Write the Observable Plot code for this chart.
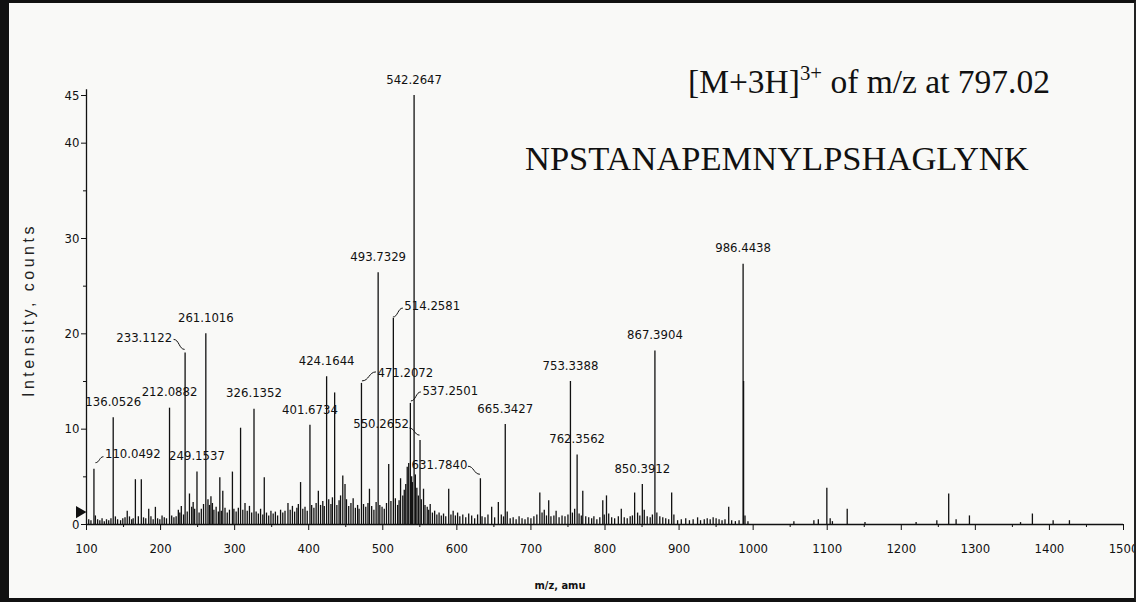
<!DOCTYPE html>
<html>
<head>
<meta charset="utf-8">
<script src="https://cdn.jsdelivr.net/npm/d3@7"></script>
<script src="https://cdn.jsdelivr.net/npm/@observablehq/plot@0.6"></script>
<style>
  html, body { margin: 0; padding: 0; background: #f9f9f7; }
  #wrap { position: relative; width: 1136px; height: 602px; overflow: hidden; background: #f9f9f7; }
  #frame { position: absolute; left: 0; top: 0; width: 1136px; height: 602px; box-sizing: border-box;
           border-top: 3px solid #111; border-left: 9px solid #111; border-right: 2px solid #222; border-bottom: 4px solid #111; pointer-events: none; }
  .note { position: absolute; font-family: "Liberation Serif", "Times New Roman", serif; color: #111; white-space: nowrap; line-height: 1; }
  .note sup { font-size: 62%; vertical-align: 0; position: relative; top: -0.62em; }
</style>
</head>
<body>
<div id="wrap">
  <div id="chart"></div>
  <div class="note" id="precursor" style="left:688px; top:65px; font-size:33.5px;">[M+3H]<sup>3+</sup> of m/z at 797.02</div>
  <div class="note" id="sequence" style="left:525px; top:141px; font-size:34.5px;">NPSTANAPEMNYLPSHAGLYNK</div>
  <div id="frame"></div>
</div>
<script>
// ---- data ----
const labeledMz = [110.0492, 136.0526, 212.0882, 233.1122, 249.1537, 261.1016, 326.1352, 401.6734, 424.1644,
  471.2072, 493.7329, 514.2581, 537.2501, 542.2647, 550.2652, 631.7840, 665.3427, 753.3388, 762.3562,
  850.3912, 867.3904, 986.4438];
const labeledIntensity = [5.8, 11.2, 12.2, 18.0, 5.5, 20.0, 12.1, 10.4, 15.5,
  14.8, 26.4, 21.6, 12.7, 45.0, 8.8, 4.8, 10.5, 15.0, 7.3,
  4.2, 18.2, 27.3];

const minorMz = [
  103,106,112,115,118,121,124,127,130,133,139,142,146,149,152,155,158,161,163,166,170,174,177,180,184,187,190,193,196,199,
  202,205,208,215,218,221,224,226,228,231,236,239,242,244,246,252,255,258,264,266,268,270,272,275,278,280,282,284,287,290,293,297,299,
  302,305,308,311,314,317,320,323,329,332,335,338,340,343,346,349,352,355,358,362,365,368,372,375,378,381,384,386,389,392,395,398,
  404,407,410,413,416,419,421,427,430,432,435,438,441,443,446,449,451,454,457,460,463,466,468,474,477,480,482,485,488,491,496,499,
  502,505,508,511,517,520,522,524,527,529,531,533,535,539,540,544,546,548,552,555,557,560,562,564,567,570,573,576,579,582,585,589,592,595,598,
  601,604,608,612,616,620,624,628,634,638,642,647,651,656,660,663,668,672,676,680,684,688,692,696,
  700,704,708,712,715,718,721,724,727,731,734,738,742,746,750,756,759,765,768,770,774,778,782,785,789,793,797,799,
  802,805,809,813,818,822,826,830,834,837,840,844,847,853,857,861,864,870,874,878,882,886,890,893,898,
  903,909,914,919,925,929,934,938,942,946,950,954,958,962,967,971,976,981,987.1,989,993,
  1055,1082,1088,1099.5,1104,1107,1127,1151,1220,1248,1264,1274,1292,1361,1377,1405,1427];
const minorIntensity = [
  0.5,0.4,0.9,0.5,0.4,0.6,0.3,0.5,0.4,0.6,0.8,0.5,0.4,0.6,0.7,1.4,0.8,0.5,0.6,4.7,0.8,4.7,0.7,0.6,1.6,0.8,0.5,1.8,0.6,0.5,
  0.9,0.7,0.6,0.9,0.7,0.8,1.5,1.2,1.9,1.0,1.3,3.2,1.8,2.3,1.6,1.2,1.6,2.1,2.6,2.0,2.9,2.2,1.5,1.8,1.3,4.9,1.4,3.5,1.7,1.2,1.5,5.5,1.6,
  1.3,1.7,10.1,1.5,2.2,1.4,1.9,1.2,1.3,1.1,1.6,1.0,4.9,1.2,0.9,1.4,1.1,1.3,0.9,1.5,1.2,1.4,2.2,1.5,1.9,1.3,1.7,2.1,4.4,1.6,1.8,1.4,
  2.0,1.7,2.2,3.5,2.0,2.4,1.9,2.6,2.1,2.8,13.8,2.0,2.5,3.0,5.1,4.2,2.6,1.9,2.2,2.7,1.7,2.0,1.6,2.1,1.8,2.2,3.7,1.9,1.5,2.3,2.0,1.8,
  1.6,2.2,6.3,2.4,2.7,2.0,2.5,4.8,3.0,3.6,4.2,6.0,6.4,5.0,4.4,5.2,3.8,3.0,2.6,3.7,2.0,1.8,1.5,2.1,1.2,1.4,1.0,1.2,0.9,1.1,0.8,3.7,1.0,1.4,0.9,
  1.2,0.8,1.0,0.7,1.1,0.9,0.6,1.0,0.8,0.7,1.0,1.8,0.7,2.3,1.0,0.8,1.3,0.6,0.7,0.5,0.8,0.6,0.5,0.7,
  0.6,0.8,1.0,3.3,1.2,1.5,0.9,2.5,0.8,0.9,1.4,0.7,0.9,0.8,1.0,1.2,1.6,1.1,0.9,3.5,0.8,0.7,0.6,0.8,0.5,0.7,2.5,1.0,
  3.0,1.1,0.7,0.6,0.8,1.6,0.7,0.6,0.8,0.9,3.3,1.2,0.9,1.5,0.8,0.7,1.0,1.2,0.8,0.7,0.6,0.5,3.3,1.0,0.4,
  0.5,0.6,0.4,0.5,0.7,0.4,0.5,0.6,0.5,0.7,0.6,0.5,0.4,0.5,1.8,0.4,0.3,0.4,15.0,0.9,0.3,
  0.3,0.4,0.5,3.8,0.6,0.3,1.6,0.2,0.2,0.4,3.2,0.5,0.9,0.2,1.1,0.4,0.4];

const xTicks = [100,200,300,400,500,600,700,800,900,1000,1100,1200,1300,1400,1500];
const yTicks = [0,10,20,30,40,45];
const threshold = [1.3];

// ---- build tables ----
const labeled = labeledMz.map((mz, k) => ({mz, i: labeledIntensity[k], label: mz.toFixed(4)}));
const minor = minorMz.map((mz, k) => ({mz, i: minorIntensity[k]}));
const peaks = minor.concat(labeled);

// label placement (pixel offsets from the peak top) for labels with a leader
const leaderStyle = {
  "110.0492": {anchor: "start", dx: 11, dy: -15, leader: [2, -6, 10, -12]},
  "233.1122": {anchor: "end", dx: -13, dy: -15, leader: [-11, -13, 0, -3]},
  "471.2072": {anchor: "start", dx: 16, dy: -11, leader: [1, -2, 15, -11]},
  "514.2581": {anchor: "start", dx: 11, dy: -13, leader: [0, -1, 10, -10]},
  "537.2501": {anchor: "start", dx: 12, dy: -13, leader: [1, -2, 11, -11]},
  "550.2652": {anchor: "end", dx: -11, dy: -17, leader: [-10, -12, 0, -5]},
  "631.7840": {anchor: "end", dx: -13, dy: -14, leader: [-12, -12, 0, -4]}
};

const plainLabels = labeled.filter(d => !leaderStyle[d.label]);
const leaderLabels = labeled.filter(d => leaderStyle[d.label]);

const narrow = "'Liberation Sans Narrow', 'Arial Narrow', 'DejaVu Sans Condensed', sans-serif";

const leaderMark = (index, scales) => {
  const g = d3.create("svg:g").attr("fill", "none").attr("stroke", "#111").attr("stroke-width", 1);
  for (const d of leaderLabels) {
    const [ax, ay, bx, by] = leaderStyle[d.label].leader;
    const x0 = scales.x(d.mz), y0 = scales.y(d.i);
    const x1 = x0 + ax, y1 = y0 + ay, x2 = x0 + bx, y2 = y0 + by;
    const mx = (x1 + x2) / 2;
    g.append("path").attr("d", `M${x1},${y1}C${mx},${y1} ${mx},${y2} ${x2},${y2}`);
  }
  return g.node();
};

const marks = [
  Plot.ruleX(peaks, {x: "mz", y1: () => 0, y2: "i", stroke: "#111", strokeWidth: 1.3}),
  Plot.ruleY([0], {stroke: "#111", strokeWidth: 1.6}),
  Plot.ruleX([100], {y1: () => 0, y2: () => 45.6, stroke: "#111", strokeWidth: 1.3}),
  Plot.axisX({ticks: xTicks, tickSize: 6, tickPadding: 13, tickFormat: d => String(d), label: null, fontSize: 13}),
  Plot.axisX({ticks: d3.range(150, 1500, 100), tickSize: 3, tickFormat: () => "", label: null}),
  Plot.axisY({ticks: yTicks, tickSize: 5, tickPadding: 2, tickFormat: d => String(d), fontSize: 13,
    label: "Intensity, counts", labelAnchor: "center", labelOffset: 64, labelArrow: "none"}),
  Plot.axisY({ticks: [5, 15, 25, 35], tickSize: 3, tickFormat: () => "", label: null}),
  Plot.dot(threshold, {x: () => 100, y: d => d, symbol: "triangle", rotate: 90, r: 4.5, fill: "#111", stroke: "none", dx: -7}),
  Plot.text(plainLabels, {x: "mz", y: "i", text: "label", dy: -16, fontSize: 13, fill: "#111"}),
  leaderMark,
  Plot.text(["m/z, amu"], {frameAnchor: "bottom", dx: -45, dy: 64, fontSize: 11, fontWeight: "bold", fill: "#111"})
];
for (const d of leaderLabels) {
  const s = leaderStyle[d.label];
  marks.push(Plot.text([d], {x: "mz", y: "i", text: "label", textAnchor: s.anchor, dx: s.dx, dy: s.dy, fontSize: 13, fill: "#111"}));
}

const chart = Plot.plot({
  width: 1136,
  height: 602,
  marginLeft: 86,
  marginRight: 13,
  marginTop: 95,
  marginBottom: 78,
  x: {domain: [100, 1500]},
  y: {domain: [0, 45]},
  style: {background: "transparent", fontFamily: narrow, fontSize: "13px", color: "#111", overflow: "visible"},
  marks
});
document.getElementById("chart").appendChild(chart);

// y-axis title styling (regular sans with wide tracking, like the instrument software)
d3.select(chart).selectAll('g[aria-label="y-axis label"] text')
  .style("font-family", "'Liberation Sans', Arial, sans-serif")
  .style("font-size", "16px")
  .style("letter-spacing", "3.5px")
  .style("fill", "#222");
</script>
</body>
</html>
